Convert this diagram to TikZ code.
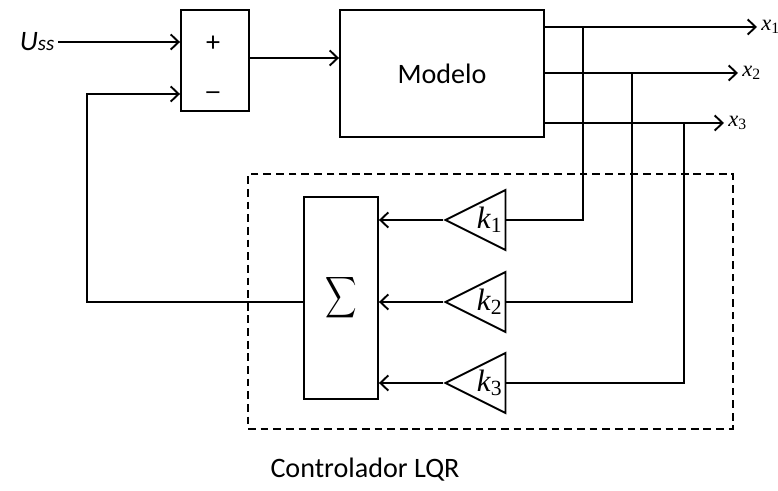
\documentclass[tikz,border=0pt]{standalone}
\usepackage{fontspec}
\setmainfont{Carlito}
\newfontfamily\symfont{Liberation Serif}
\usetikzlibrary{arrows.meta,shapes.geometric}

\begin{document}
\begin{tikzpicture}[>={Straight Barb[length=2mm,width=3.8mm]},line width=1.35pt,
    every node/.style={font=\fontsize{20}{24}\selectfont},
    blk/.style={draw,inner sep=0pt},
    gain/.style={draw,isosceles triangle,shape border rotate=180,isosceles triangle stretches,
      minimum width=1.5cm,minimum height=1.5cm,inner sep=0pt,anchor=apex},
    klabel/.style={font=\fontsize{22}{24}\selectfont\symfont},
    xlabel/.style={font=\fontsize{16}{18}\selectfont\symfont,right,inner sep=2.5pt}]
    \useasboundingbox (0,0) rectangle (19.45,12.275);
    % summing junction
    \node[blk,minimum width=1.7cm,minimum height=2.525cm] (sub) at (5.375,10.76) {};
    \node (plus) at (5.325,11.175) {+};
    \node (minus) at (5.325,9.875) {\scalebox{1.3}[1]{–}};
    \node[anchor=east,inner sep=2pt] (uss) at (1.45,11.225) {\textit{U{\fontsize{15}{18}\selectfont ss}}};
    \draw[->] (uss.east) -- (uss.east -| sub.west);
    % plant
    \node[blk,minimum width=5.1cm,minimum height=3.175cm] (mod) at (11.05,10.44) {Modelo};
    \draw[->] ([yshift=0.065cm]sub.east) -- ([yshift=0.065cm]sub.east -| mod.west);
    % states
    \coordinate (o1) at ([yshift=1.16cm]mod.east);
    \coordinate (o2) at ([yshift=0.01cm]mod.east);
    \coordinate (o3) at ([yshift=-1.24cm]mod.east);
    \coordinate (e1) at (18.925,0 |- o1);
    \coordinate (e2) at (18.45,0 |- o2);
    \coordinate (e3) at (18.1,0 |- o3);
    \draw[->] (o1) -- (e1) node[xlabel] (lx1) {\textit{x}\textsubscript{1}};
    \draw[->] (o2) -- (e2) node[xlabel] (lx2) {\textit{x}\textsubscript{2}};
    \draw[->] (o3) -- (e3) node[xlabel] (lx3) {\textit{x}\textsubscript{3}};
    % controller
    \node[draw,line width=1.2pt,dash pattern=on 5.5pt off 3.5pt,minimum width=12.125cm,minimum height=6.375cm] (lqr) at (12.2625,4.7375) {};
    \node (lqrtext) at (9.125,0.525) {Controlador LQR};
    \node[blk,minimum width=1.85cm,minimum height=5.05cm] (sig) at (8.525,4.825) {\normalsize\scalebox{1.55}[2.05]{$\displaystyle\sum$}};
    \node[gain] (g1) at (11.075,6.775) {};
    \node[gain] (g2) at (11.075,4.725) {};
    \node[gain] (g3) at (11.075,2.7) {};
    \node[klabel] (k1) at ([xshift=-0.42cm]g1.apex -| g1.east) {\textit{k}\textsubscript{1}};
    \node[klabel] (k2) at ([xshift=-0.42cm]g2.apex -| g2.east) {\textit{k}\textsubscript{2}};
    \node[klabel] (k3) at ([xshift=-0.42cm]g3.apex -| g3.east) {\textit{k}\textsubscript{3}};
    \draw[->] (g1.apex) -- (g1.apex -| sig.east);
    \draw[->] (g2.apex) -- (g2.apex -| sig.east);
    \draw[->] (g3.apex) -- (g3.apex -| sig.east);
    % state feedback taps
    \coordinate (b1) at (14.575,0);
    \coordinate (b2) at (15.8,0);
    \coordinate (b3) at (17.1,0);
    \draw (o1 -| b1) |- (g1.apex -| g1.east);
    \draw (o2 -| b2) |- (g2.apex -| g2.east);
    \draw (o3 -| b3) |- (g3.apex -| g3.east);
    % feedback to the summing junction
    \coordinate (fb) at (2.175,0);
    \coordinate (minusin) at ([yshift=-0.835cm]sub.west);
    \draw[->] (sig.west |- g2.apex) -- (fb |- g2.apex) |- (minusin);
\end{tikzpicture}
\end{document}
